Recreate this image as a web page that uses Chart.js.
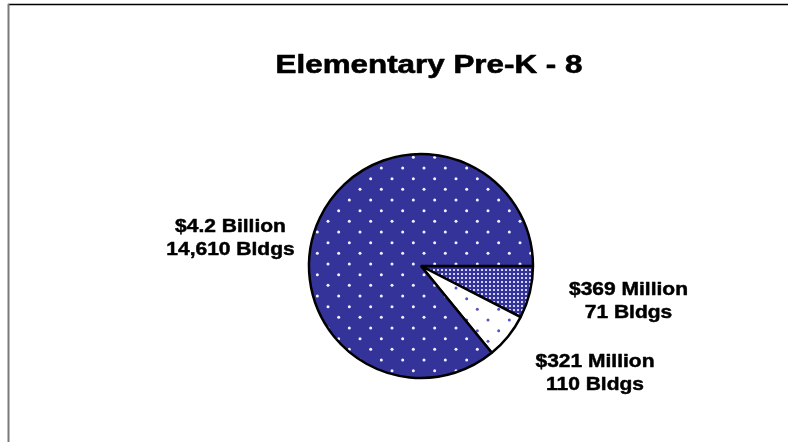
<!DOCTYPE html>
<html>
<head>
<meta charset="utf-8">
<script src="https://cdn.jsdelivr.net/npm/chart.js@4/dist/chart.umd.min.js"></script>
<style>
  html, body { margin: 0; padding: 0; background: #ffffff; }
  canvas { display: block; }
</style>
</head>
<body>
<canvas id="c" width="788" height="442"></canvas>
<script>
// ---- data (values in millions of dollars) ----
const chartTitle = 'Elementary Pre-K - 8';
const categories = ['$369 Million', '$321 Million', '$4.2 Billion'];
const buildings = ['71 Bldgs', '110 Bldgs', '14,610 Bldgs'];
const values = [369, 321, 4200];

// ---- fill patterns ----
function makeTile(size, bg, dots, color, r) {
  const t = document.createElement('canvas');
  t.width = size; t.height = size;
  const g = t.getContext('2d');
  g.fillStyle = bg; g.fillRect(0, 0, size, size);
  g.fillStyle = color;
  dots.forEach(([x, y]) => {
    for (const ox of [-size, 0, size]) for (const oy of [-size, 0, size]) {
      g.beginPath(); g.arc(x + ox, y + oy, r, 0, Math.PI * 2); g.fill();
    }
  });
  return t;
}
const ctx = document.getElementById('c').getContext('2d');
const step = 64 / 3;
const bigDots = [], whiteDots = [];
for (let i = 0; i < 3; i++) for (let j = 0; j < 3; j++) {
  bigDots.push([8 + i * step, 8 + j * step], [8 + step / 2 + i * step, 8 + step / 2 + j * step]);
  whiteDots.push([8 + i * step, 10.67 + j * step], [8 + step / 2 + i * step, j * step]);
}
const bluePattern = ctx.createPattern(makeTile(64, '#333399', bigDots, '#f4f4ff', 1.5), 'repeat');
const whitePattern = ctx.createPattern(makeTile(64, '#ffffff', whiteDots, '#5555c0', 1.5), 'repeat');
const hatchTile = document.createElement('canvas');
hatchTile.width = 4; hatchTile.height = 4;
(function () {
  const g = hatchTile.getContext('2d');
  g.fillStyle = '#333399'; g.fillRect(0, 0, 4, 4);
  g.fillStyle = '#d0d0f4'; g.fillRect(1, 1, 2, 2);
})();
const hatchPattern = ctx.createPattern(hatchTile, 'repeat');

// ---- text & frame plugin ----
const decor = {
  id: 'decor',
  beforeDraw(chart) {
    const c = chart.ctx;
    c.save();
    c.fillStyle = '#ffffff';
    c.fillRect(0, 0, chart.width, chart.height);
    c.strokeStyle = '#000000'; c.lineWidth = 1.5;
    c.beginPath(); c.moveTo(8, 4.5); c.lineTo(chart.width, 4.5); c.stroke();
    c.strokeStyle = '#7a7a7a'; c.lineWidth = 2;
    c.beginPath(); c.moveTo(8.5, 4); c.lineTo(8.5, chart.height); c.stroke();
    c.restore();
  },
  afterDraw(chart, args, opts) {
    const c = chart.ctx;
    const arc = chart.getDatasetMeta(0).data[0];
    const cx = arc.x, cy = arc.y;
    function stretched(text, x, y, font, sx, sw) {
      c.save();
      c.translate(x, y);
      c.scale(sx, 1);
      c.font = font;
      c.fillStyle = '#000000';
      c.strokeStyle = '#000000';
      c.lineWidth = sw;
      c.lineJoin = 'round';
      c.textAlign = 'center';
      c.textBaseline = 'alphabetic';
      c.fillText(text, 0, 0);
      c.strokeText(text, 0, 0);
      c.restore();
    }
    // title
    stretched(chartTitle, opts.titleX, opts.titleY, 'bold 25.5px "Liberation Sans", Arial, sans-serif', 1.23, 0.6);
    // slice labels
    opts.labelOffsets.forEach((o, i) => {
      const x = cx + o[0], y = cy + o[1];
      const f = 'bold 17.5px "Liberation Sans", Arial, sans-serif';
      stretched(categories[i], x, y, f, 1.2, 0.45);
      stretched(buildings[i], x, y + opts.lineHeight, f, 1.2, 0.45);
    });
  }
};

new Chart(ctx, {
  type: 'pie',
  data: {
    labels: categories,
    datasets: [{
      data: values,
      backgroundColor: [hatchPattern, whitePattern, bluePattern],
      borderColor: '#000000',
      borderWidth: 2.5,
      hoverOffset: 0
    }]
  },
  options: {
    responsive: false,
    animation: false,
    rotation: 90,
    radius: 112,
    layout: { padding: { left: 54, right: 0, top: 90, bottom: 0 } },
    plugins: {
      legend: { display: false },
      tooltip: { enabled: false },
      title: { display: false },
      decor: {
        titleX: 429, titleY: 73.3,
        lineHeight: 23,
        labelOffsets: [[207.5, 29], [174, 100.7], [-190.5, -34]]
      }
    }
  },
  plugins: [decor]
});
</script>
</body>
</html>
